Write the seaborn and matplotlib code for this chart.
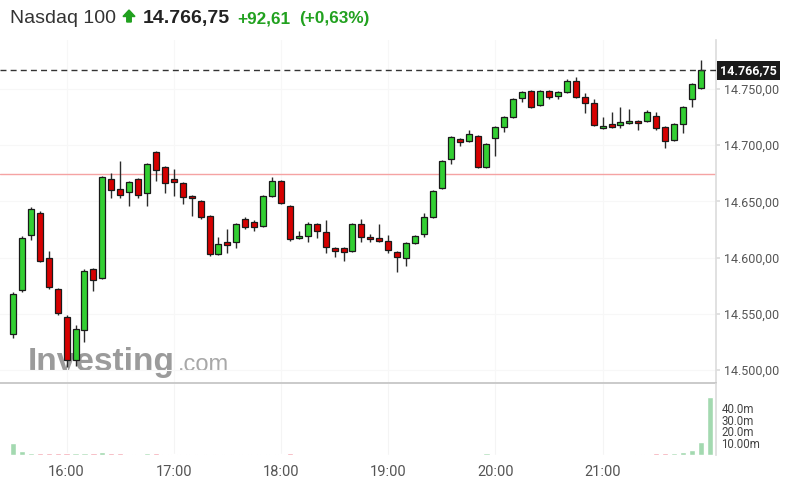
import numpy as np
import pandas as pd
import seaborn as sns
import matplotlib.pyplot as plt
from matplotlib.patches import FancyArrow
from matplotlib.transforms import blended_transform_factory

# Nasdaq 100, 5 minute candles 15:30 - 21:55 (+ closing auction volume at 22:00)
opens = [14532.0, 14571.1, 14620.1, 14639.6, 14599.6, 14572.0, 14547.1, 14508.8, 14535.5, 14589.8,
         14581.8, 14669.9, 14661.0, 14658.3, 14669.9, 14657.4, 14693.9, 14680.6, 14669.9, 14666.3,
         14654.8, 14650.3, 14637.0, 14603.2, 14613.8, 14613.8, 14634.3, 14631.6, 14628.1, 14654.8,
         14668.1, 14645.9, 14617.4, 14619.2, 14629.8, 14622.7, 14608.5, 14608.5, 14605.8, 14629.8,
         14618.3, 14617.4, 14614.7, 14604.9, 14599.6, 14612.9, 14620.9, 14636.1, 14661.9, 14687.7,
         14705.5, 14703.7, 14708.2, 14680.6, 14706.4, 14716.2, 14725.1, 14742.0, 14748.2, 14735.8,
         14748.2, 14743.8, 14747.3, 14757.1, 14742.9, 14737.5, 14715.3, 14718.9, 14718.0, 14719.7,
         14721.5, 14721.5, 14726.0, 14716.2, 14704.6, 14718.9, 14741.1, 14750.9]
highs = [14569.3, 14619.2, 14645.0, 14641.4, 14605.8, 14573.0, 14548.9, 14540.0, 14589.8, 14590.7,
         14672.6, 14675.2, 14685.9, 14668.0, 14670.8, 14684.1, 14694.8, 14681.5, 14678.8, 14667.2,
         14655.7, 14651.2, 14637.9, 14618.3, 14625.4, 14630.7, 14636.1, 14633.4, 14655.7, 14671.7,
         14669.0, 14646.8, 14623.6, 14631.6, 14630.7, 14633.4, 14609.4, 14609.4, 14630.7, 14634.3,
         14620.9, 14629.8, 14620.1, 14605.8, 14613.8, 14620.1, 14639.6, 14660.1, 14686.8, 14708.2,
         14706.4, 14713.5, 14709.1, 14701.9, 14717.1, 14726.0, 14742.0, 14748.2, 14749.1, 14749.1,
         14749.1, 14748.2, 14758.9, 14760.7, 14746.4, 14741.1, 14725.1, 14729.5, 14734.0, 14732.2,
         14722.4, 14731.3, 14729.5, 14717.1, 14719.7, 14734.9, 14755.3, 14775.8]
lows = [14528.4, 14569.3, 14615.6, 14596.0, 14572.0, 14548.9, 14502.6, 14503.5, 14524.8, 14570.2,
        14580.9, 14653.0, 14653.0, 14645.9, 14653.0, 14645.9, 14668.1, 14657.4, 14654.8, 14647.7,
        14637.0, 14634.3, 14601.4, 14602.3, 14604.0, 14608.5, 14625.4, 14623.6, 14627.2, 14653.9,
        14647.7, 14614.7, 14616.5, 14613.8, 14617.4, 14604.0, 14600.5, 14596.9, 14604.9, 14613.8,
        14613.8, 14613.8, 14604.0, 14587.1, 14592.5, 14612.1, 14618.3, 14635.2, 14661.0, 14683.3,
        14699.3, 14702.8, 14679.7, 14679.7, 14690.4, 14711.7, 14724.2, 14738.4, 14733.1, 14734.9,
        14741.1, 14741.1, 14746.4, 14742.0, 14728.6, 14717.1, 14714.4, 14715.3, 14715.3, 14718.9,
        14713.5, 14720.6, 14713.5, 14697.5, 14703.7, 14710.8, 14734.0, 14750.0]
closes = [14567.5, 14617.4, 14643.2, 14596.9, 14573.8, 14550.6, 14508.8, 14536.4, 14588.0, 14580.0,
          14671.7, 14660.1, 14655.7, 14667.2, 14655.7, 14683.3, 14677.9, 14666.3, 14667.2, 14653.9,
          14653.0, 14636.1, 14603.2, 14612.1, 14611.2, 14629.8, 14627.2, 14627.2, 14654.8, 14668.1,
          14648.5, 14616.5, 14619.2, 14629.8, 14623.6, 14609.4, 14605.8, 14604.9, 14629.8, 14618.3,
          14616.5, 14614.7, 14606.7, 14600.5, 14612.9, 14619.2, 14636.1, 14659.2, 14685.9, 14707.3,
          14702.8, 14710.0, 14680.6, 14701.0, 14716.2, 14725.1, 14741.1, 14747.3, 14734.0, 14748.2,
          14742.9, 14747.3, 14757.1, 14742.9, 14737.5, 14718.0, 14717.1, 14716.2, 14720.6, 14721.5,
          14719.7, 14729.5, 14715.3, 14703.7, 14718.9, 14734.0, 14754.5, 14766.75]
# volume in millions
volumes = [10.5, 3.2, 2.0, 1.8, 1.8, 1.9, 1.9, 2.0, 1.8, 1.9,
           2.6, 2.0, 1.9, 1.2, 0.8, 1.6, 2.0, 0.6, 0.5, 0.5,
           0.5, 0.5, 0.5, 0.5, 0.5, 1.2, 0.5, 0.5, 0.6, 0.6,
           0.5, 2.0, 0.4, 0.4, 0.4, 0.4, 0.4, 0.4, 0.4, 0.4,
           0.4, 0.4, 0.4, 0.4, 0.4, 0.4, 0.4, 0.4, 0.4, 0.4,
           0.4, 0.4, 0.4, 1.4, 0.4, 0.4, 0.4, 0.4, 0.4, 0.4,
           0.4, 0.4, 0.4, 0.4, 0.4, 0.4, 0.4, 0.4, 0.4, 0.4,
           0.5, 0.5, 1.8, 1.9, 1.5, 2.8, 4.0, 11.0, 49.5]

prev_close = 14674.14
last_price = 14766.75
hour_ticks = [16, 17, 18, 19, 20, 21]
hour_labels = ["16:00", "17:00", "18:00", "19:00", "20:00", "21:00"]
price_ticks = [14500, 14550, 14600, 14650, 14700, 14750]
vol_ticks = [10, 20, 30, 40]
vol_labels = ["10.00m", "20.0m", "30.0m", "40.0m"]

GREEN = "#33cf33"
RED = "#d60000"
UP_VOL = "#a3d9b0"
DOWN_VOL = "#f29aa6"
TXT_GREEN = "#21a11f"

times = pd.date_range("2021-09-01 15:30", periods=len(volumes), freq="5min")
hours = (times.hour + times.minute / 60).to_numpy()

df = pd.DataFrame({"hour": hours[:len(closes)], "open": opens, "high": highs,
                   "low": lows, "close": closes})
df["up"] = df["close"] >= df["open"]

vdf = pd.DataFrame({"hour": hours, "vol": volumes})
vdf["dir"] = np.where(np.append(df["up"].to_numpy(), True), "up", "down")

sns.set_theme(style="white")
plt.rcParams["font.family"] = ["Roboto", "DejaVu Sans"]

W, H = 787, 497
fig = plt.figure(figsize=(W / 100, H / 100), dpi=100)
axp = fig.add_axes([0, 1 - 383 / H, 716 / W, (383 - 40) / H])
axv = fig.add_axes([0, 1 - 455 / H, 716 / W, (455 - 384) / H])

x_left = 15.5 - 13 / 107.2
x_right = x_left + 716 / 107.2

# candles
axp.vlines(df["hour"], df["low"], df["high"], color="#2b2b2b", lw=1, zorder=2)
body_bottom = np.minimum(df["open"], df["close"])
body_h = np.maximum((df["close"] - df["open"]).abs(), 1.6)
axp.bar(df["hour"], body_h, bottom=body_bottom, width=0.056,
        color=np.where(df["up"], GREEN, RED), edgecolor="#1a1a1a", lw=0.9, zorder=3)

axp.axhline(prev_close, color="#f5a3a3", lw=1, zorder=1)
axp.axhline(last_price, color="#333333", lw=1, ls=(0, (4.3, 3)), zorder=4)

axp.set_xlim(x_left, x_right)
axp.set_ylim(14488.4, 14793.6)
axp.set_xticks(hour_ticks)
axp.set_yticks(price_ticks)
axp.set_yticklabels([f"{v:,.2f}".replace(",", "X").replace(".", ",").replace("X", ".")
                     for v in price_ticks])
axp.yaxis.tick_right()
axp.tick_params(axis="y", length=3, color="#dddddd", pad=3, labelsize=9, labelcolor="#555555")
axp.tick_params(axis="x", length=0, labelbottom=False)
axp.grid(True, color="#f7f7f7", lw=0.8)
axp.set_axisbelow(True)
for s in ["top", "left"]:
    axp.spines[s].set_visible(False)
axp.spines["right"].set_color("#dddddd")
axp.spines["bottom"].set_color("#c4c4c4")

tr = blended_transform_factory(axp.transAxes, axp.transData)
axp.text(1.0056, last_price, "14.766,75", transform=tr, ha="left", va="center",
         color="white", fontsize=9, fontweight="bold", clip_on=False, zorder=6,
         bbox=dict(boxstyle="square,pad=0.25", fc="#1a1a1a", ec="none"))

# watermark
axp.text(28 / W, 1 - 371 / H, "Investing", transform=fig.transFigure,
         family=["Liberation Sans", "DejaVu Sans"], fontsize=24, fontweight="bold",
         color="#8a8a8a", alpha=0.85, va="baseline", zorder=0.5)
axp.text(178 / W, 1 - 371 / H, ".com", transform=fig.transFigure,
         family=["Liberation Sans", "DejaVu Sans"], fontsize=17,
         color="#999999", alpha=0.85, va="baseline", zorder=0.5)

# volume
sns.barplot(data=vdf, x="hour", y="vol", hue="dir", native_scale=True, dodge=False,
            palette={"up": UP_VOL, "down": DOWN_VOL}, width=0.7, saturation=1,
            errorbar=None, legend=False, ax=axv)
axv.set_xlim(x_left, x_right)
axv.set_ylim(0, 60.2)
axv.set_xlabel("")
axv.set_ylabel("")
axv.set_xticks(hour_ticks)
axv.set_xticklabels(hour_labels)
axv.set_yticks(vol_ticks)
axv.set_yticklabels(vol_labels)
axv.yaxis.tick_right()
axv.tick_params(axis="y", length=0, pad=4, labelsize=8.3, labelcolor="#444444")
axv.tick_params(axis="x", length=0, pad=7, labelsize=10.5, labelcolor="#555555")
axv.grid(axis="x", color="#f4f4f4", lw=0.8)
axv.set_axisbelow(True)
for s in ["top", "left", "bottom"]:
    axv.spines[s].set_visible(False)
axv.spines["right"].set_color("#dddddd")

# header
title_font = ["Liberation Sans", "DejaVu Sans"]
base = 1 - 23 / H
fig.text(10 / W, base, "Nasdaq 100", family=title_font, fontsize=14, color="#333333",
         va="baseline")
fig.add_artist(FancyArrow(1.29, (H - 22) / 100, 0, 0.12, width=0.045, head_width=0.12,
                          head_length=0.065, length_includes_head=True, color=TXT_GREEN,
                          transform=fig.dpi_scale_trans))
fig.text(143 / W, base, "14.766,75", family=title_font, fontsize=14, fontweight="bold",
         color="#222222", va="baseline")
fig.text(237 / W, base, "+92,61", family=title_font, fontsize=12.3, fontweight="bold",
         color=TXT_GREEN, va="baseline")
fig.text(299 / W, base, "(+0,63%)", family=title_font, fontsize=12.3, fontweight="bold",
         color=TXT_GREEN, va="baseline")

fig.savefig("out.png", dpi=100)
